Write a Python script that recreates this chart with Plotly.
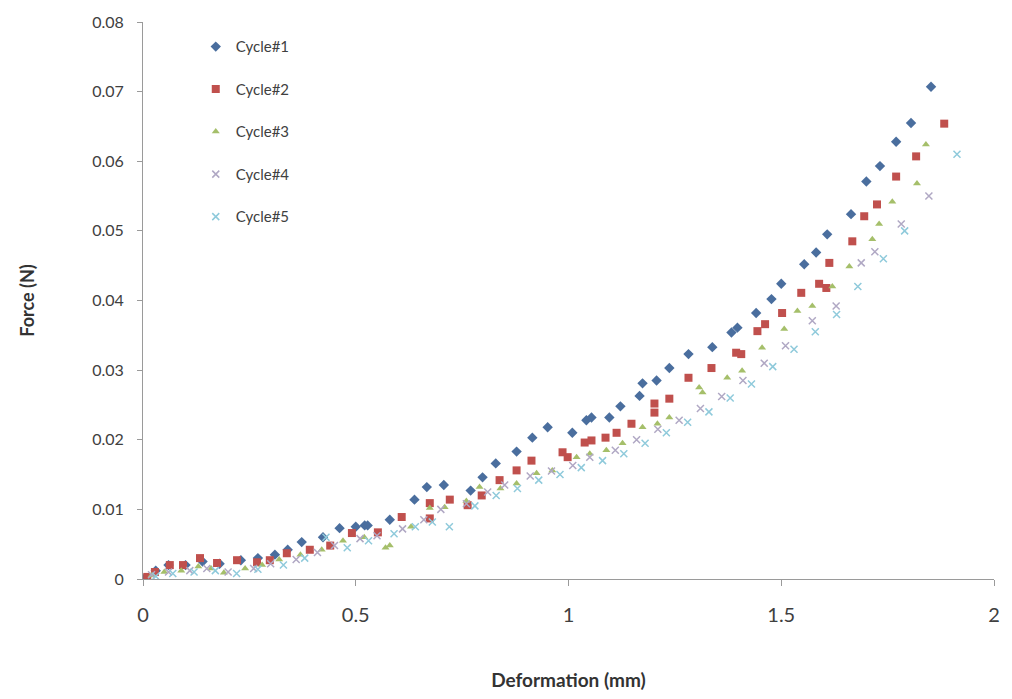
import plotly.graph_objects as go

# ---- data ----
x1 = [0, 0.03, 0.06, 0.10, 0.14, 0.18, 0.23, 0.27, 0.31, 0.34, 0.373, 0.423, 0.462, 0.50, 0.521, 0.528,
      0.58, 0.638, 0.667, 0.707, 0.770, 0.798, 0.829, 0.878, 0.915, 0.951, 1.009, 1.042, 1.054, 1.096,
      1.122, 1.167, 1.174, 1.207, 1.237, 1.282, 1.338, 1.383, 1.397, 1.441, 1.477, 1.500, 1.554, 1.582,
      1.608, 1.664, 1.700, 1.732, 1.770, 1.805, 1.852]
y1 = [0, 0.0012, 0.0020, 0.0020, 0.0025, 0.0022, 0.0027, 0.0030, 0.0035, 0.0042, 0.0053, 0.0060, 0.0073,
      0.0075, 0.0077, 0.0077, 0.0085, 0.0114, 0.0132, 0.0135, 0.0127, 0.0146, 0.0166, 0.0183, 0.0203,
      0.0218, 0.0210, 0.0228, 0.0232, 0.0232, 0.0248, 0.0263, 0.0281, 0.0285, 0.0303, 0.0323, 0.0333,
      0.0354, 0.0361, 0.0382, 0.0402, 0.0424, 0.0452, 0.0469, 0.0495, 0.0524, 0.0571, 0.0593, 0.0628,
      0.0655, 0.0707]

x2 = [0.01, 0.028, 0.063, 0.094, 0.134, 0.174, 0.221, 0.268, 0.298, 0.338, 0.392, 0.44, 0.491, 0.552,
      0.608, 0.674, 0.674, 0.721, 0.763, 0.796, 0.838, 0.878, 0.913, 0.986, 0.998, 1.038, 1.054, 1.087,
      1.113, 1.148, 1.202, 1.202, 1.237, 1.282, 1.336, 1.394, 1.406, 1.444, 1.462, 1.502, 1.547, 1.589,
      1.606, 1.613, 1.667, 1.695, 1.725, 1.770, 1.817, 1.883]
y2 = [0.0003, 0.0010, 0.0020, 0.0020, 0.0030, 0.0023, 0.0027, 0.0024, 0.0027, 0.0037, 0.0042, 0.0048,
      0.0066, 0.0067, 0.0089, 0.0109, 0.0087, 0.0114, 0.0106, 0.0120, 0.0142, 0.0156, 0.0170, 0.0182,
      0.0175, 0.0196, 0.0199, 0.0203, 0.0210, 0.0223, 0.0239, 0.0252, 0.0259, 0.0289, 0.0303, 0.0325,
      0.0323, 0.0356, 0.0366, 0.0382, 0.0411, 0.0424, 0.0418, 0.0454, 0.0485, 0.0521, 0.0538, 0.0578,
      0.0607, 0.0654]

x3 = [0.02, 0.05, 0.09, 0.13, 0.16, 0.19, 0.24, 0.28, 0.32, 0.37, 0.42, 0.47, 0.52, 0.57, 0.58, 0.63,
      0.674, 0.709, 0.76, 0.791, 0.84, 0.878, 0.925, 0.962, 1.019, 1.05, 1.089, 1.127, 1.174, 1.209,
      1.237, 1.307, 1.315, 1.373, 1.408, 1.455, 1.507, 1.538, 1.573, 1.62, 1.660, 1.714, 1.730, 1.761,
      1.819, 1.840]
y3 = [0.0005, 0.0010, 0.0012, 0.0018, 0.0015, 0.0009, 0.0015, 0.0020, 0.0028, 0.0035, 0.0042, 0.0055,
      0.0060, 0.0045, 0.0048, 0.0075, 0.0102, 0.0103, 0.0112, 0.0132, 0.0130, 0.0137, 0.0152, 0.0156,
      0.0175, 0.0180, 0.0185, 0.0195, 0.0218, 0.0223, 0.0232, 0.0275, 0.0268, 0.0289, 0.0299, 0.0332,
      0.0359, 0.0385, 0.0392, 0.0420, 0.0449, 0.0488, 0.0510, 0.0542, 0.0568, 0.0624]

x4 = [0.02, 0.06, 0.11, 0.15, 0.2, 0.26, 0.3, 0.36, 0.41, 0.45, 0.51, 0.55, 0.61, 0.66, 0.70, 0.76,
      0.81, 0.85, 0.91, 0.96, 1.01, 1.05, 1.11, 1.16, 1.21, 1.26, 1.31, 1.36, 1.41, 1.46, 1.51, 1.573,
      1.629, 1.688, 1.72, 1.782, 1.847]
y4 = [0.0006, 0.0010, 0.0012, 0.0015, 0.0010, 0.0015, 0.0022, 0.0028, 0.0038, 0.0048, 0.0058, 0.0062,
      0.0072, 0.0085, 0.0100, 0.0108, 0.0125, 0.0135, 0.0148, 0.0155, 0.0163, 0.0175, 0.0185, 0.0200,
      0.0215, 0.0228, 0.0245, 0.0262, 0.0285, 0.0310, 0.0335, 0.0371, 0.0392, 0.0454, 0.0470, 0.0510,
      0.0550]

x5 = [0.03, 0.07, 0.12, 0.17, 0.22, 0.27, 0.33, 0.38, 0.43, 0.48, 0.53, 0.59, 0.64, 0.68, 0.72, 0.78,
      0.83, 0.88, 0.93, 0.98, 1.03, 1.08, 1.13, 1.18, 1.23, 1.28, 1.33, 1.38, 1.43, 1.48, 1.53, 1.58,
      1.63, 1.68, 1.74, 1.79, 1.913]
y5 = [0.0004, 0.0008, 0.0010, 0.0012, 0.0008, 0.0014, 0.0020, 0.0030, 0.0060, 0.0045, 0.0055, 0.0065,
      0.0075, 0.0082, 0.0075, 0.0105, 0.0120, 0.0130, 0.0142, 0.0150, 0.0160, 0.0170, 0.0180, 0.0195,
      0.0210, 0.0225, 0.0240, 0.0260, 0.0280, 0.0305, 0.0330, 0.0355, 0.0380, 0.0420, 0.0460, 0.0500,
      0.0610]

names = ["Cycle#1", "Cycle#2", "Cycle#3", "Cycle#4", "Cycle#5"]

fig = go.Figure()
fig.add_trace(go.Scatter(x=x1, y=y1, mode="markers", name=names[0], legendgroup="a",
                         marker=dict(symbol="diamond", size=8, color="#4A6E9E")))
fig.add_trace(go.Scatter(x=x2, y=y2, mode="markers", name=names[1], legendgroup="b",
                         marker=dict(symbol="square", size=8, color="#C0504D")))
fig.add_trace(go.Scatter(x=x3, y=y3, mode="markers", name=names[2], legendgroup="c",
                         marker=dict(symbol="triangle-up", size=7, color="#A5BF6A")))
fig.add_trace(go.Scatter(x=x4, y=y4, mode="markers", name=names[3], legendgroup="d",
                         marker=dict(symbol="x-thin", size=7, line=dict(width=1.5, color="#B0A8C4"),
                                     color="#B0A8C4")))
fig.add_trace(go.Scatter(x=x5, y=y5, mode="markers", name=names[4], legendgroup="e",
                         marker=dict(symbol="x-thin", size=7, line=dict(width=1.5, color="#8FCADB"),
                                     color="#8FCADB")))

fig.update_layout(
    width=1012, height=699,
    margin=dict(l=143, r=15, t=20, b=120),
    paper_bgcolor="white", plot_bgcolor="white",
    font=dict(family="Lato, Open Sans, sans-serif", color="#404040"),
    showlegend=True,
    legend=dict(x=0.062, y=0.985, xanchor="left", yanchor="top",
                traceorder="grouped", tracegroupgap=20,
                font=dict(size=15, color="#404040"), bgcolor="rgba(0,0,0,0)",
                itemwidth=30),
    xaxis=dict(range=[0, 2], tickvals=[0, 0.5, 1, 1.5, 2], ticktext=["0", "0.5", "1", "1.5", "2"],
               showgrid=False, zeroline=False, showline=True, linecolor="#9A9A9A", linewidth=1,
               ticks="outside", ticklen=6, tickcolor="#9A9A9A",
               tickfont=dict(size=20, color="#404040"), ticklabelstandoff=12,
               title=dict(text="<b>Deformation (mm)</b>", font=dict(size=19, color="#333333"),
                          standoff=48)),
    yaxis=dict(range=[0, 0.08], dtick=0.01, tickformat="~g",
               showgrid=False, zeroline=False, showline=True, linecolor="#9A9A9A", linewidth=1,
               ticks="outside", ticklen=5, tickcolor="#9A9A9A",
               tickfont=dict(size=16, color="#404040"), ticklabelstandoff=10,
               title=dict(text="<b>Force (N)</b>", font=dict(size=18, color="#333333"),
                          standoff=52)),
)

fig.write_html("out.html")
